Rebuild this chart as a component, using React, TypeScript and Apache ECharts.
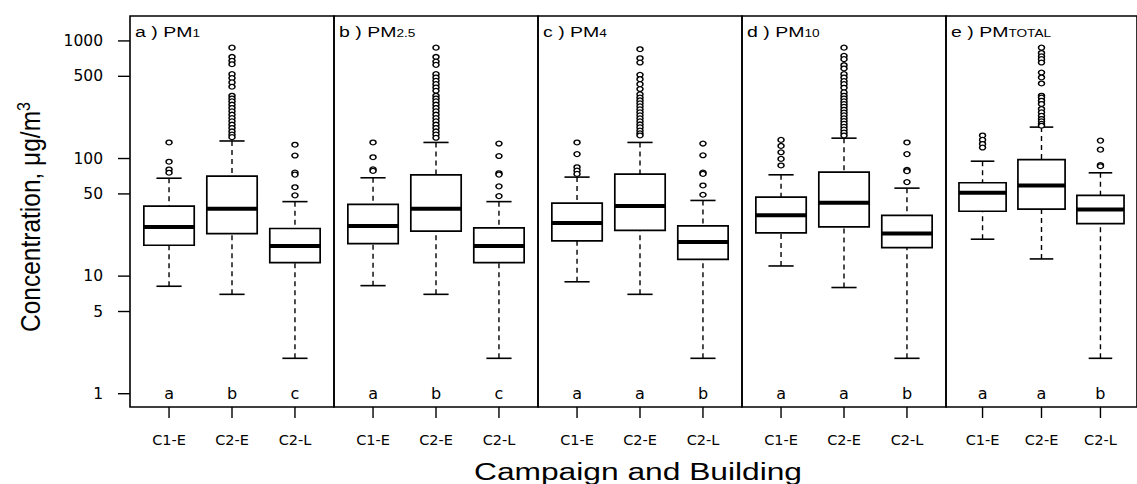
import React, { useEffect, useRef } from 'react';
import * as echarts from 'echarts';

// ---------- data ----------
const categories = ['C1-E', 'C2-E', 'C2-L'];
const yTickValues = [1, 5, 10, 50, 100, 500, 1000];
const panelLetters = ['a', 'b', 'c', 'd', 'e'];
const panelSubs = ['1', '2.5', '4', '10', 'TOTAL'];
const groupLetters = [
  ['a', 'b', 'c'],
  ['a', 'b', 'c'],
  ['a', 'a', 'b'],
  ['a', 'a', 'b'],
  ['a', 'a', 'b'],
];
const letterLevel = 1;

// box stats: [lower whisker, Q1, median, Q3, upper whisker]
const pm1Stats = [
  [8.2, 18.3, 26.2, 39.4, 68],
  [7.0, 23.0, 37.4, 70.8, 141],
  [2.0, 13.0, 18.0, 25.4, 43],
];
const pm1Outliers = [
  [137, 94, 80.7, 75.7],
  [877, 731, 677, 634, 522, 483, 444, 408, 342, 324, 306, 287, 269, 252, 236, 221, 207, 194, 182, 170, 160, 152],
  [131, 106, 76, 73, 57, 48.6],
];

const pm25Stats = [
  [8.3, 18.9, 26.7, 40.7, 68.6],
  [7.0, 24.1, 37.4, 72.7, 137],
  [2.0, 13.0, 18.0, 25.7, 43],
];
const pm25Outliers = [
  [137, 102.6, 81, 78.5],
  [877, 731, 668, 626, 522, 489, 458, 429, 402, 377, 342, 324, 306, 287, 269, 252, 236, 221, 207, 194, 182, 170, 160, 150],
  [134, 105, 75, 73, 58, 47.9],
];

const pm4Stats = [
  [8.95, 19.9, 28.3, 41.8, 69.5],
  [7.0, 24.5, 39.4, 73.6, 137],
  [2.0, 13.9, 19.5, 26.7, 44],
];
const pm4Outliers = [
  [137, 109, 84.4, 79, 74],
  [850, 713, 655, 515, 473, 429, 390, 352, 330, 312, 295, 278, 262, 247, 233, 220, 207, 195, 184, 173, 164, 157],
  [134, 106.6, 76, 74, 59, 49.2],
];

const pm10Stats = [
  [12.2, 23.3, 32.9, 47, 72.7],
  [8.0, 26.2, 42.1, 76.5, 149],
  [2.0, 17.5, 23.0, 32.9, 56],
];
const pm10Outliers = [
  [144, 128, 113, 99.3, 87.3],
  [877, 746, 700, 622, 583, 522, 489, 455, 429, 400, 365, 342, 324, 306, 290, 275, 260, 246, 233, 220, 208, 197, 186, 176, 166, 157],
  [137, 109, 80, 78, 63],
];

const pmTotalStats = [
  [20.6, 35.6, 51.2, 62.2, 94.9],
  [14.0, 37.2, 59, 98, 185],
  [2.0, 28, 36.9, 48.6, 75.6],
];
const pmTotalOutliers = [
  [157, 144, 133, 124],
  [877, 790, 740, 700, 655, 538, 489, 435, 342, 330, 310, 291, 264, 247, 231, 217, 207, 197, 190],
  [142, 119, 88, 86],
];

const panelStats = [pm1Stats, pm25Stats, pm4Stats, pm10Stats, pmTotalStats];
const panelOutliers = [pm1Outliers, pm25Outliers, pm4Outliers, pm10Outliers, pmTotalOutliers];

// ---------- layout ----------
const PLOT_LEFT = 130;
const PANEL_W = 204;
const PLOT_TOP = 16;
const PLOT_H = 391;
const Y_MIN_LOG = -0.113;
const Y_MAX_LOG = 3.212;
const X_MIN = 0.38;
const X_MAX = 3.62;
const X_TICK_LEN = 11;
const Y_TICK_LEN = 12;
const INK = '#000';
const TICK_FONT = 'DejaVu Sans';
const TITLE_FONT = 'Liberation Sans';

const lg = (v: number) => Math.log10(v);

function buildOption() {
  const grids: any[] = [];
  const xAxes: any[] = [];
  const yAxes: any[] = [];
  const series: any[] = [];
  const graphics: any[] = [];
  const catPos = categories.map((_, i) => i + 1);
  const tickStyle = { stroke: INK, lineWidth: 1.4 };

  for (let p = 0; p < 5; p++) {
    grids.push({
      left: PLOT_LEFT + PANEL_W * p,
      top: PLOT_TOP,
      width: PANEL_W,
      height: PLOT_H,
      show: true,
      borderColor: INK,
      borderWidth: 1.6,
      backgroundColor: 'transparent',
    });
    xAxes.push({
      type: 'value',
      gridIndex: p,
      position: 'bottom',
      min: X_MIN,
      max: X_MAX,
      axisLine: { show: false, onZero: false },
      splitLine: { show: false },
      axisTick: { show: false },
      axisLabel: {
        show: true,
        customValues: catPos,
        formatter: (v: number) => categories[Math.round(v) - 1] ?? '',
        margin: 25,
        color: INK,
        fontSize: 14.5,
        fontFamily: TICK_FONT,
      },
    });
    yAxes.push({
      type: 'value',
      gridIndex: p,
      position: 'left',
      min: Y_MIN_LOG,
      max: Y_MAX_LOG,
      show: p === 0,
      axisLine: { show: false, onZero: false },
      splitLine: { show: false },
      axisTick: { show: false },
      axisLabel: {
        show: true,
        customValues: yTickValues.map(lg),
        formatter: (v: number) => String(Math.round(Math.pow(10, v))),
        margin: 27,
        color: INK,
        fontSize: 15.5,
        fontFamily: TICK_FONT,
      },
    });

    // x-axis tick marks (outside, below the panel)
    series.push({
      type: 'custom',
      xAxisIndex: p,
      yAxisIndex: p,
      data: catPos.map((x) => [x]),
      encode: { x: 0 },
      clip: false,
      z: 2,
      renderItem: (params: any, api: any) => {
        const pt = api.coord([api.value(0), Y_MIN_LOG]);
        return {
          type: 'line',
          shape: { x1: pt[0], y1: pt[1], x2: pt[0], y2: pt[1] + X_TICK_LEN },
          style: tickStyle,
        };
      },
    });

    // y-axis tick marks on the first panel
    if (p === 0) {
      series.push({
        type: 'custom',
        xAxisIndex: p,
        yAxisIndex: p,
        data: yTickValues.map((v) => [X_MIN, lg(v)]),
        encode: { x: 0, y: 1 },
        clip: false,
        z: 2,
        renderItem: (params: any, api: any) => {
          const pt = api.coord([api.value(0), api.value(1)]);
          return {
            type: 'line',
            shape: { x1: pt[0] - Y_TICK_LEN, y1: pt[1], x2: pt[0], y2: pt[1] },
            style: tickStyle,
          };
        },
      });
    }

    // boxes
    const boxData = panelStats[p].map((s, i) => [catPos[i], ...s.map(lg)]);
    series.push({
      type: 'custom',
      xAxisIndex: p,
      yAxisIndex: p,
      data: boxData,
      encode: { x: 0, y: [1, 2, 3, 4, 5] },
      z: 3,
      renderItem: (params: any, api: any) => {
        const x = api.value(0);
        const pMin = api.coord([x, api.value(1)]);
        const pQ1 = api.coord([x, api.value(2)]);
        const pMed = api.coord([x, api.value(3)]);
        const pQ3 = api.coord([x, api.value(4)]);
        const pMax = api.coord([x, api.value(5)]);
        const half = api.size([0.8, 0])[0] / 2;
        const cap = api.size([0.4, 0])[0] / 2;
        const cx = pMed[0];
        const dash = { stroke: INK, lineWidth: 1.4, lineDash: [5, 4], fill: null };
        const solid = { stroke: INK, lineWidth: 1.6, fill: null };
        return {
          type: 'group',
          children: [
            { type: 'line', shape: { x1: cx, y1: pMin[1], x2: cx, y2: pQ1[1] }, style: dash },
            { type: 'line', shape: { x1: cx, y1: pMax[1], x2: cx, y2: pQ3[1] }, style: dash },
            { type: 'line', shape: { x1: cx - cap, y1: pMin[1], x2: cx + cap, y2: pMin[1] }, style: solid },
            { type: 'line', shape: { x1: cx - cap, y1: pMax[1], x2: cx + cap, y2: pMax[1] }, style: solid },
            {
              type: 'rect',
              shape: { x: cx - half, y: pQ3[1], width: half * 2, height: pQ1[1] - pQ3[1] },
              style: { fill: '#fff', stroke: INK, lineWidth: 1.7 },
            },
            { type: 'line', shape: { x1: cx - half, y1: pMed[1], x2: cx + half, y2: pMed[1] }, style: { stroke: INK, lineWidth: 4 } },
          ],
        };
      },
    });

    // outliers
    const outData: number[][] = [];
    panelOutliers[p].forEach((arr, i) => arr.forEach((v) => outData.push([catPos[i], lg(v)])));
    series.push({
      type: 'scatter',
      xAxisIndex: p,
      yAxisIndex: p,
      data: outData,
      symbol: 'circle',
      symbolSize: [6, 4.8],
      itemStyle: { color: '#fff', borderColor: INK, borderWidth: 1.4, opacity: 1 },
      z: 4,
    });

    // group letters
    const letters = groupLetters[p];
    series.push({
      type: 'custom',
      xAxisIndex: p,
      yAxisIndex: p,
      data: catPos.map((x) => [x, lg(letterLevel)]),
      encode: { x: 0, y: 1 },
      z: 5,
      renderItem: (params: any, api: any) => {
        const pt = api.coord([api.value(0), api.value(1)]);
        return {
          type: 'text',
          x: pt[0],
          y: pt[1],
          style: {
            text: letters[params.dataIndex],
            fill: INK,
            fontSize: 16,
            fontFamily: TICK_FONT,
            align: 'center',
            verticalAlign: 'middle',
          },
        };
      },
    });

    // panel label
    graphics.push({
      type: 'text',
      x: PLOT_LEFT + PANEL_W * p + 5,
      y: 31,
      scaleX: 1.3,
      z: 10,
      style: {
        text: `{m|${panelLetters[p]} ) PM}{s|${panelSubs[p]}}`,
        align: 'left',
        verticalAlign: 'middle',
        fill: INK,
        rich: {
          m: { fontSize: 15, fontFamily: TITLE_FONT, lineHeight: 17, verticalAlign: 'bottom', fill: INK },
          s: { fontSize: 10.5, fontFamily: TITLE_FONT, verticalAlign: 'bottom', fill: INK },
        },
      },
    });
  }

  // axis titles
  graphics.push({
    type: 'text',
    x: 31,
    y: 217,
    rotation: Math.PI / 2,
    scaleY: 1.12,
    style: {
      text: '{t|Concentration, μg/m}{p|3}',
      align: 'center',
      verticalAlign: 'middle',
      fill: INK,
      rich: {
        t: { fontSize: 24.5, fontFamily: TITLE_FONT, lineHeight: 29, verticalAlign: 'middle', fill: INK },
        p: { fontSize: 16, fontFamily: TITLE_FONT, verticalAlign: 'top', fill: INK },
      },
    },
  });
  graphics.push({
    type: 'text',
    x: 638,
    y: 472,
    scaleX: 1.38,
    style: {
      text: 'Campaign and Building',
      fontSize: 23,
      fontFamily: TITLE_FONT,
      align: 'center',
      verticalAlign: 'middle',
      fill: INK,
    },
  });

  return {
    animation: false,
    backgroundColor: '#fff',
    grid: grids,
    xAxis: xAxes,
    yAxis: yAxes,
    series,
    graphic: graphics,
  };
}

export default function App() {
  const ref = useRef<HTMLDivElement>(null);
  useEffect(() => {
    if (!ref.current) return;
    const chart = echarts.init(ref.current, undefined, { renderer: 'svg' });
    chart.setOption(buildOption() as any);
    return () => chart.dispose();
  }, []);
  return (
    <div
      ref={ref}
      style={{ position: 'fixed', left: 0, top: 0, width: 1137, height: 484, background: '#fff' }}
    />
  );
}
